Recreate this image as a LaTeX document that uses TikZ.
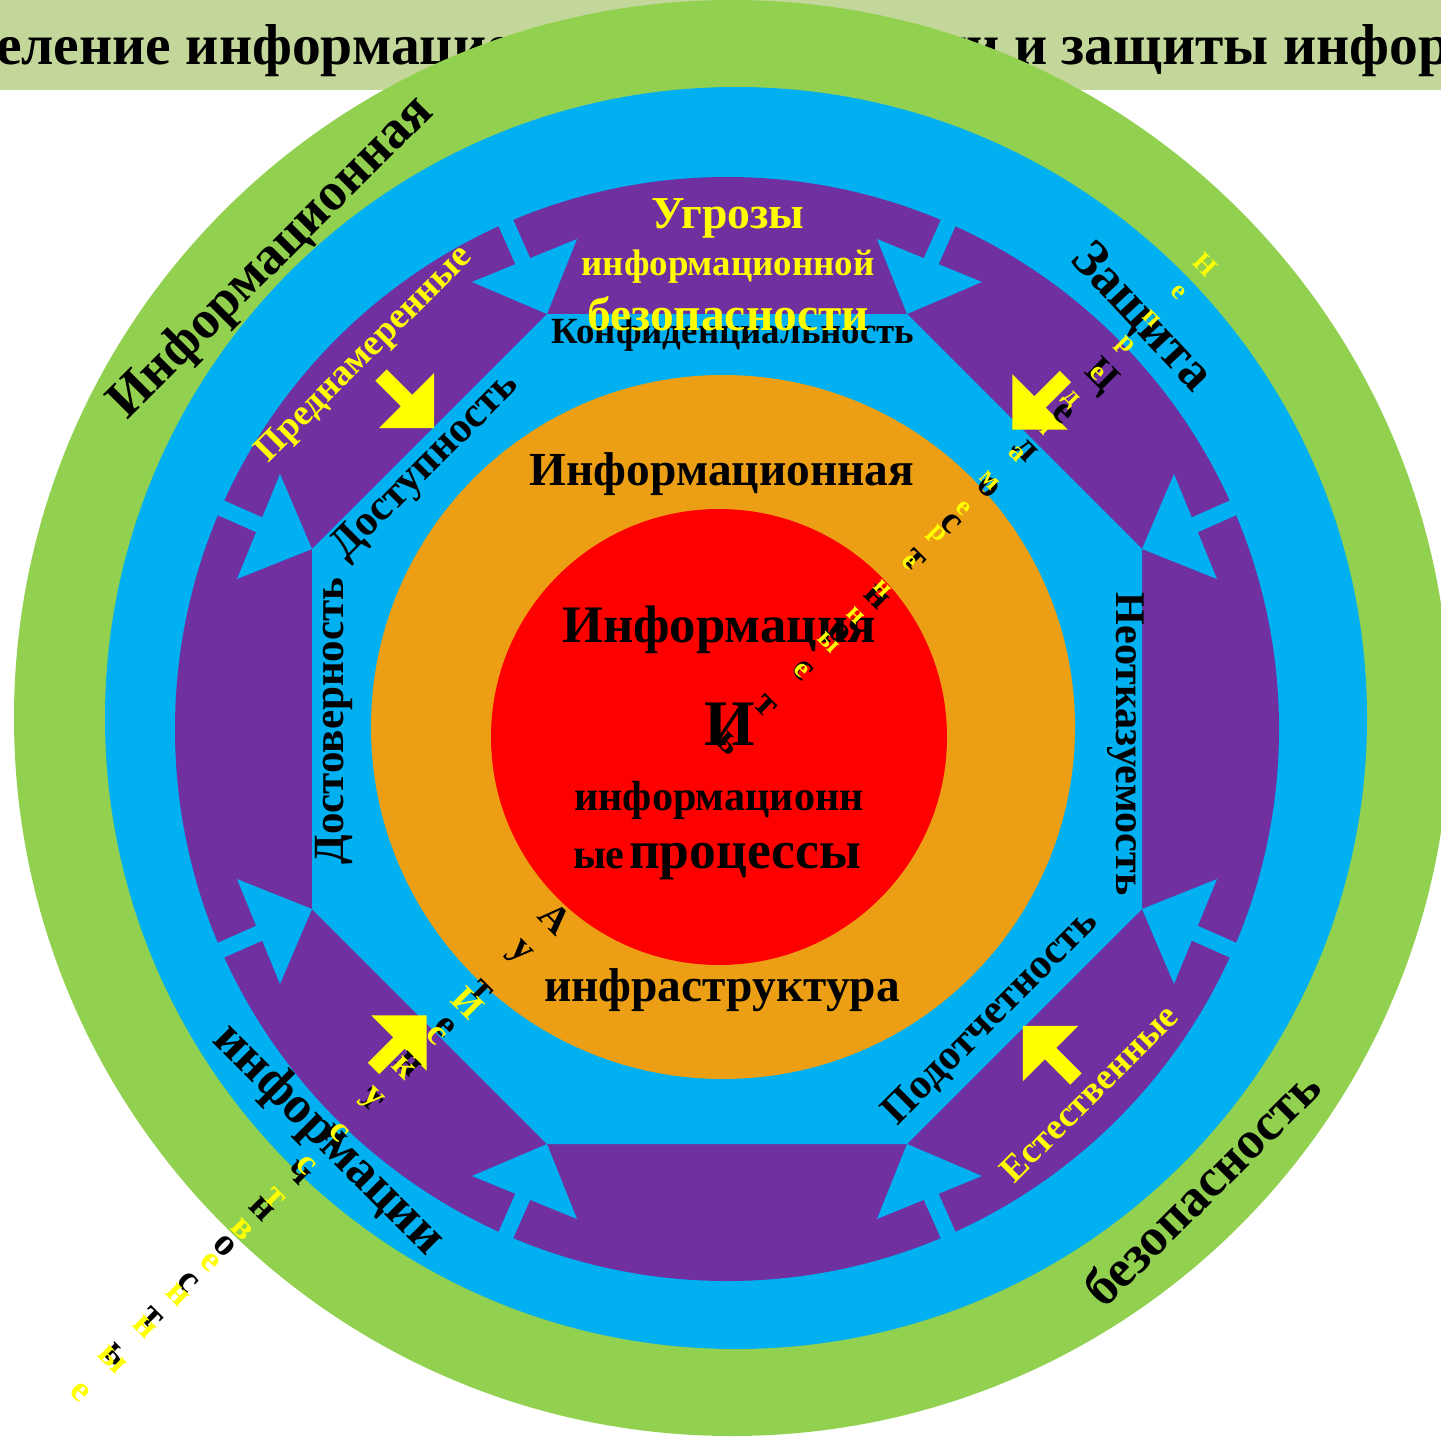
\documentclass[tikz,border=0pt]{standalone}
\usepackage{fontspec}
\setmainfont{Liberation Serif}
\definecolor{bannergreen}{HTML}{C4D79B}
\definecolor{ringgreen}{HTML}{92D050}
\definecolor{ringblue}{HTML}{00B0F0}
\definecolor{ringpurple}{HTML}{7030A0}
\definecolor{coreorange}{HTML}{EC9F14}
\definecolor{corered}{HTML}{FF0000}
\definecolor{txtyellow}{HTML}{FFFF00}
\newcommand\fsz[1]{\fontsize{#1}{#1}\selectfont\bfseries}
\begin{document}
\begin{tikzpicture}[x=0.02cm,y=-0.02cm,
  lbl/.style={inner sep=0pt,outer sep=0pt,text=black},
  ylbl/.style={inner sep=0pt,outer sep=0pt,text=txtyellow},
  gapline/.style={draw=ringblue,line width=0.32cm},
  yarrow/.style={fill=txtyellow}]
\useasboundingbox (0,0) rectangle (1441,1440);
\clip (0,0) rectangle (1441,1440);
\fill[white] (0,0) rectangle (1441,1440);
% banner and title
\fill[bannergreen] (0,0) rectangle (1441,90);
\node[lbl,anchor=base west,font=\fsz{32.8}] (title) at (-4,64) {\llap{Опред}еление информационной безопасности и защиты информации};
% rings
\fill[ringgreen] (732,718) circle[radius=718];
\fill[ringblue] (736,718) circle[radius=631];
\fill[ringpurple] (727,729) circle[radius=552];
\fill[ringblue] (727,729) +(-180,-415) -- +(180,-415) -- +(415,-180) -- +(415,180)
   -- +(180,415) -- +(-180,415) -- +(-415,180) -- +(-415,-180) -- cycle;
% arrow heads and gaps of the purple ring
\foreach \sx in {1,-1}{\foreach \sy in {1,-1}{
  \fill[ringblue] ({727+\sx*180},{729+\sy*415}) -- ({727+\sx*150},{729+\sy*490}) -- ({727+\sx*255},{729+\sy*447}) -- cycle;
  \fill[ringblue] ({727+\sx*415},{729+\sy*180}) -- ({727+\sx*490},{729+\sy*150}) -- ({727+\sx*447},{729+\sy*255}) -- cycle;
  \draw[gapline] ({727+\sx*199},{729+\sy*456}) -- ({727+\sx*226},{729+\sy*517});
  \draw[gapline] ({727+\sx*456},{729+\sy*199}) -- ({727+\sx*517},{729+\sy*226});
}}
% core circles
\fill[coreorange] (723,727) circle[radius=352];
\fill[corered] (719,737) circle[radius=228];
% outer ring texts
\node[lbl,rotate=45,font=\fsz{30.5}] (infsec1) at (272,258) {Информационная};
\node[lbl,rotate=45,font=\fsz{30}] (infsec2) at (1201,1187) {безопасность};
\node[lbl,rotate=-47,font=\fsz{30}] (prot1) at (1141,318) {Защита};
\node[lbl,rotate=-45,font=\fsz{30}] (prot2) at (328,1140) {информации};
% threats
\node[lbl,anchor=base,font=\fsz{21}] (conf) at (733,343) {Конфиденциальность};
\node[ylbl,anchor=base,font=\fsz{26}] (thr1) at (728,228) {Угрозы};
\node[ylbl,anchor=base,font=\fsz{21}] (thr2) at (728,275) {информационной};
\node[ylbl,anchor=base,font=\fsz{27}] (thr3) at (728,330) {безопасности};
\node[ylbl,rotate=45,font=\fsz{21}] (intent) at (365,355) {Преднамеренные};
\node[ylbl,rotate=45,font=\fsz{21}] (natural) at (1089,1093) {Естественные};
% properties
\node[lbl,rotate=45,font=\fsz{24.5}] (avail) at (426,467) {Доступность};
\node[lbl,rotate=90,font=\fsz{24.5}] (reli) at (334,721) {Достоверность};
\node[lbl,rotate=-90,font=\fsz{24}] (nonrep) at (1126,744) {Неотказуемость};
\node[lbl,rotate=45,font=\fsz{24}] (account) at (991,1018) {Подотчетность};
% core texts
\node[lbl,anchor=base,font=\fsz{27}] (infra1) at (722,485) {Информационная};
\node[lbl,anchor=base,font=\fsz{27}] (infra2) at (722,1001) {инфраструктура};
\node[lbl,anchor=base,font=\fsz{30}] (core1) at (719,642) {Информация};
\node[lbl,anchor=base,font=\fsz{37}] (core2) at (730,745) {И};
\node[lbl,anchor=base,font=\fsz{24}] (core3) at (719,810) {информационн};
\node[lbl,anchor=base west] (core4) at (573,868) {{\fsz{24}ые} {\fsz{30.5}процессы}};
% yellow arrows
\foreach \bx/\by/\r [count=\k] in {406.5/400.5/-45, 1040/402/-135, 399/1043/45, 1050.5/1053.5/135}{
  \begin{scope}[shift={(\bx,\by)},rotate=\r]
    \fill[yarrow] (-36,-8) -- (0,-8) -- (0,-39) -- (39,0) -- (0,39) -- (0,8) -- (-36,8) -- cycle;
  \end{scope}
}
% diagonal letter columns
\foreach \c [count=\i from 0] in {Ц,е,л,о,с,т,н,о,с,т,ь}
  \node[lbl,rotate=-45,font=\fsz{22}] (ba\i) at ({1100-37.2*\i},{377+36.6*\i}) {\c};
\foreach \c [count=\i from 0] in {А,у,т,е,н,т,и,ч,н,о,с,т,ь}
  \node[lbl,rotate=-45,font=\fsz{22}] (bb\i) at ({555-36.7*\i},{918+36.4*\i}) {\c};
\foreach \c [count=\i from 0] in {Н,е,п,р,е,д,н,а,м,е,р,е,н,н,ы,е}
  \node[ylbl,rotate=-45,font=\fsz{15.5}] (ya\i) at ({1205-26.9*\i},{265+27.0*\i}) {\c};
\foreach \c [count=\i from 0] in {И,с,к,у,с,с,т,в,е,н,н,ы,е}
  \node[ylbl,rotate=-45,font=\fsz{20.5}] (yb\i) at ({468-32.3*\i},{1003+32.4*\i}) {\c};
\end{tikzpicture}
\end{document}
